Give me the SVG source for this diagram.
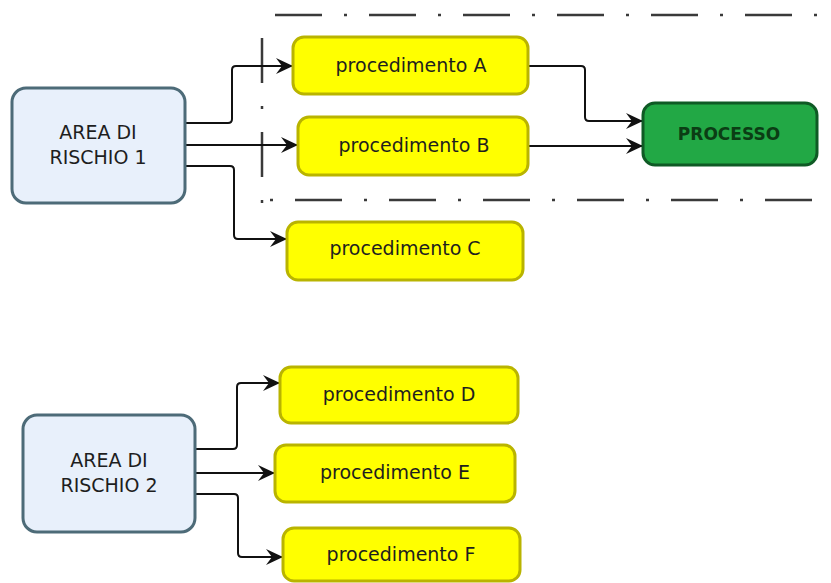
<svg xmlns="http://www.w3.org/2000/svg" width="831" height="583" viewBox="0 0 831 583">
<defs>
<marker id="arr" markerUnits="userSpaceOnUse" markerWidth="18" markerHeight="16" refX="17" refY="8" orient="auto">
<path d="M0,0 L17,8 L0,16 L6,8 z" fill="#111"/>
</marker>
<style>
.area{fill:#e8f0fb;stroke:#4d6b78;stroke-width:3}
.proc{fill:#ffff00;stroke:#b9b400;stroke-width:3}
.main{fill:#22a845;stroke:#0f5a25;stroke-width:3}
.t{font-family:"DejaVu Sans",Verdana,sans-serif;font-size:19px;fill:#1e1e1e;text-anchor:middle}
.tb{font-family:"DejaVu Sans",Verdana,sans-serif;font-size:17px;font-weight:bold;fill:#0b3d14;text-anchor:middle}
.c{fill:none;stroke:#111;stroke-width:2;marker-end:url(#arr)}
.b{fill:none;stroke:#3a3a3a;stroke-width:2.5}
</style>
</defs>
<rect width="831" height="583" fill="#ffffff"/>
<g id="boundary">
<line class="b" x1="275" y1="15" x2="831" y2="15" stroke-dasharray="47 22 3 22"/>
<line class="b" x1="270" y1="200" x2="831" y2="200" stroke-dasharray="3 22 47 22"/>
<line class="b" x1="262" y1="38" x2="262" y2="204" stroke-dasharray="45 23 3 23"/>
</g>
<g id="connectors">
<path class="c" d="M185,123 H228 Q232,123 232,119 V70 Q232,66 236,66 H293"/>
<path class="c" d="M185,145 H298"/>
<path class="c" d="M185,166 H230 Q234,166 234,170 V235 Q234,239 238,239 H287"/>
<path class="c" d="M528,66 H581 Q585,66 585,70 V117 Q585,121 589,121 H643"/>
<path class="c" d="M528,146 H643"/>
<path class="c" d="M195,449 H233 Q237,449 237,445 V387 Q237,383 241,383 H280"/>
<path class="c" d="M195,473 H275"/>
<path class="c" d="M195,494 H234 Q238,494 238,498 V553 Q238,557 242,557 H283"/>
</g>
<g id="area1">
<rect class="area" x="12" y="88" width="173" height="115" rx="14"/>
<text class="t" x="98" y="139">AREA DI</text>
<text class="t" x="98" y="164">RISCHIO 1</text>
</g>
<g id="area2">
<rect class="area" x="23" y="415" width="172" height="117" rx="14"/>
<text class="t" x="109" y="467">AREA DI</text>
<text class="t" x="109" y="492">RISCHIO 2</text>
</g>
<g id="procA">
<rect class="proc" x="293" y="37" width="235" height="57" rx="11"/>
<text class="t" x="411" y="72">procedimento A</text>
</g>
<g id="procB">
<rect class="proc" x="298" y="117" width="230" height="58" rx="11"/>
<text class="t" x="414" y="152">procedimento B</text>
</g>
<g id="procC">
<rect class="proc" x="287" y="222" width="236" height="58" rx="11"/>
<text class="t" x="405" y="255">procedimento C</text>
</g>
<g id="processo">
<rect class="main" x="643" y="103" width="174" height="62" rx="12"/>
<text class="tb" x="729" y="140">PROCESSO</text>
</g>
<g id="procD">
<rect class="proc" x="280" y="367" width="238" height="56" rx="11"/>
<text class="t" x="399" y="401">procedimento D</text>
</g>
<g id="procE">
<rect class="proc" x="275" y="445" width="240" height="57" rx="11"/>
<text class="t" x="395" y="479">procedimento E</text>
</g>
<g id="procF">
<rect class="proc" x="283" y="528" width="237" height="53" rx="11"/>
<text class="t" x="401" y="561">procedimento F</text>
</g>
</svg>
